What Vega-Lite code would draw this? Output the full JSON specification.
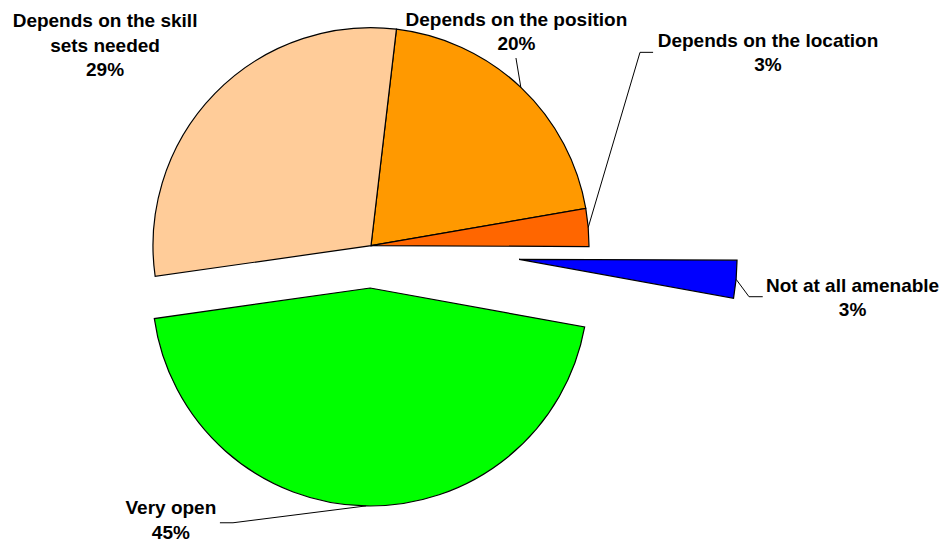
{
  "$schema": "https://vega.github.io/schema/vega-lite/v6.json",
  "width": 947,
  "height": 543,
  "padding": 0,
  "autosize": "none",
  "background": "white",
  "config": {"view": {"stroke": null}},
  "data": {
    "values": [
      {"label": "Depends on the position", "value": 20.4},
      {"label": "Depends on the location", "value": 2.8},
      {"label": "Not at all amenable", "value": 2.8},
      {"label": "Very open", "value": 44.9},
      {"label": "Depends on the skill sets needed", "value": 29.1}
    ]
  },
  "transform": [
    {"window": [{"op": "sum", "field": "value", "as": "end"}], "frame": [null, 0]},
    {"calculate": "datum.end - datum.value", "as": "start"},
    {"calculate": "0.1169 + PI * (datum.start + datum.end) / 100", "as": "mid"},
    {"calculate": "datum.label === 'Very open' ? 0.194 : datum.label === 'Not at all amenable' ? 0.682 : 0", "as": "explode"},
    {"calculate": "datum.explode * sin(datum.mid)", "as": "cx"},
    {"calculate": "datum.explode * cos(datum.mid)", "as": "cy"},
    {"calculate": "datum.cx + sin(datum.mid)", "as": "ax"},
    {"calculate": "datum.cy + cos(datum.mid)", "as": "ay"},
    {"calculate": "datum.label === 'Depends on the skill sets needed' ? -1.220 : datum.label === 'Depends on the position' ? 0.667 : datum.label === 'Depends on the location' ? 1.821 : datum.label === 'Not at all amenable' ? 2.209 : -0.918", "as": "lx"},
    {"calculate": "datum.label === 'Depends on the skill sets needed' ? 1.002 : datum.label === 'Depends on the position' ? 1.008 : datum.label === 'Depends on the location' ? 0.913 : datum.label === 'Not at all amenable' ? -0.211 : -1.232", "as": "ly"},
    {"calculate": "datum.label === 'Depends on the position' ? 0.665 : datum.label === 'Depends on the location' ? 1.234 : datum.label === 'Not at all amenable' ? 1.734 : -0.633", "as": "bx"},
    {"calculate": "datum.label === 'Depends on the position' ? 0.861 : datum.label === 'Depends on the location' ? 0.887 : datum.label === 'Not at all amenable' ? -0.234 : -1.271", "as": "by"},
    {"calculate": "datum.label === 'Depends on the position' ? 0.665 : datum.label === 'Depends on the location' ? 1.294 : datum.label === 'Not at all amenable' ? 1.797 : -0.693", "as": "hx"},
    {"calculate": "(datum.label === 'Depends on the skill sets needed' ? 'Depends on the skill|sets needed' : datum.label) + '|' + format(datum.value / 100, '.0%')", "as": "txt"}
  ],
  "layer": [
    {
      "mark": {"type": "arc", "radius": 218, "stroke": "#000000", "strokeWidth": 1.2, "strokeJoin": "miter"},
      "encoding": {
        "x": {"field": "cx", "type": "quantitative", "axis": null, "scale": {"domain": [-1.7018, 2.6422], "nice": false, "zero": false}},
        "y": {"field": "cy", "type": "quantitative", "axis": null, "scale": {"domain": [-1.3638, 1.1271], "nice": false, "zero": false}},
        "theta": {"field": "start", "type": "quantitative", "stack": null, "scale": {"domain": [0, 100], "range": [0.1169, 6.4001]}},
        "theta2": {"field": "end"},
        "color": {
          "field": "label",
          "type": "nominal",
          "legend": null,
          "scale": {
            "domain": ["Depends on the position", "Depends on the location", "Not at all amenable", "Very open", "Depends on the skill sets needed"],
            "range": ["#FF9900", "#FF6600", "#0000FF", "#00FF00", "#FFCC99"]
          }
        }
      }
    },
    {
      "transform": [{"filter": "datum.label !== 'Depends on the skill sets needed'"}],
      "mark": {"type": "rule", "color": "#000000", "strokeWidth": 1},
      "encoding": {
        "x": {"field": "ax", "type": "quantitative", "axis": null},
        "y": {"field": "ay", "type": "quantitative", "axis": null},
        "x2": {"field": "bx"},
        "y2": {"field": "by"}
      }
    },
    {
      "transform": [{"filter": "datum.label !== 'Depends on the skill sets needed'"}],
      "mark": {"type": "rule", "color": "#000000", "strokeWidth": 1},
      "encoding": {
        "x": {"field": "bx", "type": "quantitative", "axis": null},
        "y": {"field": "by", "type": "quantitative", "axis": null},
        "x2": {"field": "hx"},
        "y2": {"field": "by"}
      }
    },
    {
      "mark": {"type": "text", "align": "center", "baseline": "alphabetic", "font": "Liberation Sans", "fontWeight": "bold", "fontSize": 19, "lineBreak": "|", "lineHeight": 24.5, "color": "#000000"},
      "encoding": {
        "x": {"field": "lx", "type": "quantitative", "axis": null},
        "y": {"field": "ly", "type": "quantitative", "axis": null},
        "text": {"field": "txt"}
      }
    }
  ]
}
